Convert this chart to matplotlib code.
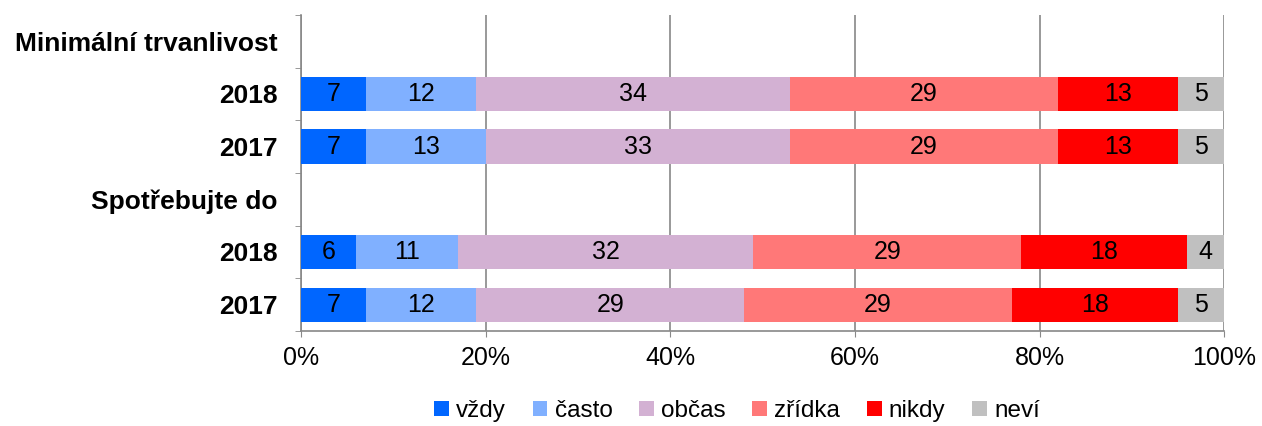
import matplotlib.pyplot as plt
import numpy as np

plt.rcParams['font.family'] = ['Liberation Sans', 'DejaVu Sans']

# row labels, top to bottom (header rows have no bar)
rows = ['Minimální trvanlivost', '2018', '2017', 'Spotřebujte do', '2018', '2017']
series = ['vždy', 'často', 'občas', 'zřídka', 'nikdy', 'neví']
colors = ['#0066FF', '#80B0FF', '#D3B1D3', '#FF7878', '#FF0000', '#C0C0C0']

min_2018 = [7, 12, 34, 29, 13, 5]
min_2017 = [7, 13, 33, 29, 13, 5]
spot_2018 = [6, 11, 32, 29, 18, 4]
spot_2017 = [7, 12, 29, 29, 18, 5]

data = [None, min_2018, min_2017, None, spot_2018, spot_2017]

fig = plt.figure(figsize=(12.62, 4.26), dpi=100)
ax = fig.add_axes([0.2385, 0.223, 0.7315, 0.742])

y = np.arange(len(rows))
for i, vals in enumerate(data):
    if vals is None:
        continue
    left = 0
    for j, v in enumerate(vals):
        ax.barh(y[i], v, left=left, height=0.65, color=colors[j], zorder=3,
                label=series[j] if i == 1 else None)
        ax.text(left + v / 2, y[i], str(v), ha='center', va='center',
                fontsize=18, zorder=4)
        left += v

ax.set_xlim(0, 100)
ax.set_ylim(len(rows) - 0.5, -0.5)
ax.set_xticks(np.arange(0, 101, 20))
ax.set_xticklabels([f'{t}%' for t in range(0, 101, 20)], fontsize=18)
ax.set_yticks(y)
ax.set_yticklabels(rows, fontsize=19, fontweight='bold')
ax.set_yticks(np.arange(-0.5, len(rows), 1), minor=True)
ax.tick_params(axis='y', which='major', length=0, pad=17)
ax.tick_params(axis='y', which='minor', length=4.5, color='#888888')
ax.tick_params(axis='x', length=4.5, color='#888888', pad=6)

ax.grid(axis='x', color='#888888', linewidth=1.2, zorder=0)
for s in ['top', 'right']:
    ax.spines[s].set_visible(False)
for s in ['left', 'bottom']:
    ax.spines[s].set_color('#888888')
    ax.spines[s].set_linewidth(1.2)

fig.legend(loc='center', bbox_to_anchor=(0.584, 0.035), ncol=6, frameon=False,
           fontsize=17.5, handlelength=0.6, handleheight=0.6, handletextpad=0.3,
           columnspacing=1.1)

fig.savefig('out.png', dpi=100)
